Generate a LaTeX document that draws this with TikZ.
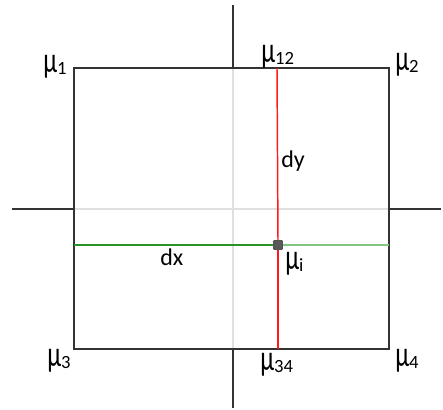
\documentclass[tikz,border=0pt]{standalone}
\usepackage{fontspec}
\setmainfont{Carlito}
\newcommand{\mulabel}[1]{\scalebox{1.05}[1.5]{\fontsize{18}{20}\selectfont μ}\raisebox{-1.5pt}{\fontsize{14}{15}\selectfont #1}}
\begin{document}
\begin{tikzpicture}[x=0.75pt,y=-0.75pt,
  axis/.style={draw=black!80,line width=1.1pt},
  inner axis/.style={draw=black!12,line width=1.1pt},
  boxline/.style={draw=black!80,line width=1.1pt},
  lbl/.style={font=\fontsize{18}{20}\selectfont,inner sep=0pt,anchor=base west},
  marker/.style={draw=black!80,fill=black!65,minimum size=7pt,inner sep=0pt,rounded corners=0.8pt}]
\useasboundingbox (0,0) rectangle (443,410);
% coordinates
\coordinate (tl) at (74,68);
\coordinate (tr) at (389,68);
\coordinate (bl) at (74,349);
\coordinate (br) at (389,349);
\coordinate (vt) at (233,5);
\coordinate (vb) at (233,408);
\coordinate (vin1) at (233,68);
\coordinate (vin2) at (233,349);
\coordinate (hl) at (12,209);
\coordinate (hr) at (441,209);
\coordinate (hin1) at (74,209);
\coordinate (hin2) at (389,209);
\coordinate (rtop) at (277,68);
\coordinate (rbot) at (278,349);
\coordinate (gl) at (74,245);
\coordinate (gr) at (389,245);
% inner light axes
\draw[inner axis] (vin1) -- (vin2);
\draw[inner axis] (hin1) -- (hin2);
% outer axes
\draw[axis] (vt) -- (vin1);
\draw[axis] (vin2) -- (vb);
\draw[axis] (hl) -- (hin1);
\draw[axis] (hin2) -- (hr);
% box
\draw[boxline] (tl) -- (tr) -- (br) -- (bl) -- cycle;
% marker
\node[marker] (mi) at (278,245) {};
% green line
\draw[draw=green!50!black!85,line width=1.2pt] (gl) -- (mi.west);
\draw[draw=green!55!black!50,line width=1.2pt] (mi.east) -- (gr);
% red line
\draw[draw=red!90,line width=1.1pt] (rtop) -- (mi.north);
\draw[draw=red!90,line width=1.1pt] (mi.south) -- (rbot);
% labels
\node[lbl] (l1) at (43,73) {\mulabel{1}};
\node[lbl] (l12) at (261,63) {\mulabel{12}};
\node[lbl] (l2) at (395,71) {\mulabel{2}};
\node[lbl] (ldy) at (281,167) {dy};
\node[lbl] (ldx) at (160,265) {dx};
\node[lbl] (li) at (285,269) {\mulabel{i}};
\node[lbl] (l3) at (47,366) {\mulabel{3}};
\node[lbl] (l34) at (260,370) {\mulabel{34}};
\node[lbl] (l4) at (395,366) {\mulabel{4}};
\end{tikzpicture}
\end{document}
